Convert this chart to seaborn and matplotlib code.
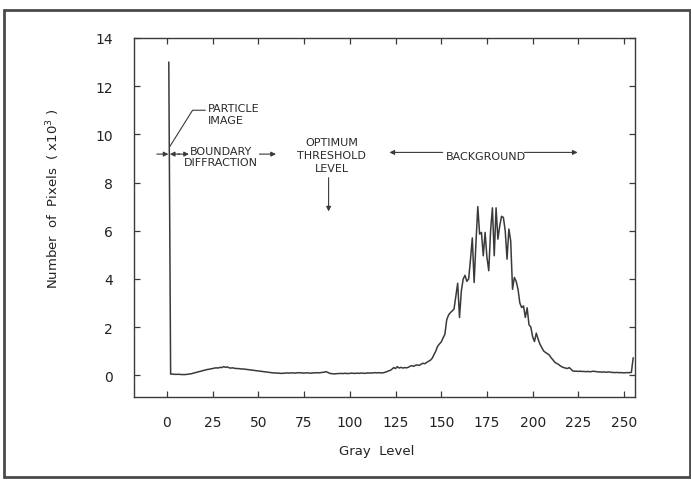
import numpy as np
import pandas as pd
import matplotlib
matplotlib.use("Agg")
import matplotlib.pyplot as plt
import seaborn as sns
from matplotlib.patches import Rectangle

# ---- data ----
gray_levels = list(range(1, 256))
pixel_counts = [
    13.0,                                                             # 1
    0.05, 0.05, 0.04, 0.04, 0.04, 0.04, 0.03, 0.03, 0.03, 0.04,       # 2-11
    0.05, 0.06, 0.08, 0.10, 0.12, 0.14, 0.16, 0.18, 0.20, 0.22,       # 12-21
    0.24, 0.25, 0.27, 0.28, 0.30, 0.31, 0.30, 0.33, 0.32, 0.36,       # 22-31
    0.33, 0.35, 0.31, 0.30, 0.31, 0.29, 0.28, 0.28, 0.27, 0.26,       # 32-41
    0.26, 0.25, 0.24, 0.23, 0.22, 0.21, 0.20, 0.19, 0.18, 0.17,       # 42-51
    0.16, 0.15, 0.14, 0.13, 0.12, 0.11, 0.10, 0.10, 0.09, 0.09,       # 52-61
    0.08, 0.08, 0.09, 0.09, 0.10, 0.09, 0.10, 0.10, 0.09, 0.10,       # 62-71
    0.11, 0.10, 0.10, 0.09, 0.10, 0.10, 0.09, 0.09, 0.10, 0.10,       # 72-81
    0.11, 0.10, 0.11, 0.12, 0.13, 0.15, 0.12, 0.08, 0.07, 0.06,       # 82-91
    0.06, 0.07, 0.07, 0.08, 0.07, 0.08, 0.08, 0.07, 0.08, 0.09,       # 92-101
    0.08, 0.08, 0.09, 0.08, 0.09, 0.09, 0.08, 0.09, 0.10, 0.09,       # 102-111
    0.10, 0.10, 0.11, 0.10, 0.11, 0.10, 0.10, 0.12, 0.14, 0.18,       # 112-121
    0.20, 0.25, 0.32, 0.28, 0.36, 0.30, 0.33, 0.30, 0.32, 0.31,       # 122-131
    0.33, 0.38, 0.40, 0.37, 0.42, 0.43, 0.41, 0.46, 0.50, 0.48,       # 132-141
    0.53, 0.58, 0.62, 0.70, 0.85, 1.00, 1.20, 1.30, 1.38, 1.55,       # 142-151
    1.70, 2.30, 2.50, 2.60, 2.67, 2.75, 3.30, 3.82, 2.40, 3.50,       # 152-161
    3.99, 4.15, 3.90, 4.00, 4.80, 5.70, 3.85, 5.50, 7.00, 5.86,       # 162-171
    5.93, 4.96, 5.93, 4.90, 4.34, 6.00, 6.95, 4.96, 6.95, 5.65,       # 172-181
    6.20, 6.60, 6.55, 6.00, 4.82, 6.07, 5.58, 3.57, 4.06, 3.90,       # 182-191
    3.57, 3.00, 2.81, 2.88, 2.40, 2.80, 2.10, 2.00, 1.60, 1.40,       # 192-201
    1.75, 1.50, 1.29, 1.15, 1.01, 0.95, 0.90, 0.85, 0.74, 0.65,       # 202-211
    0.55, 0.50, 0.46, 0.40, 0.35, 0.32, 0.30, 0.28, 0.32, 0.25,       # 212-221
    0.18, 0.17, 0.17, 0.16, 0.17, 0.16, 0.16, 0.15, 0.16, 0.15,       # 222-231
    0.15, 0.17, 0.16, 0.15, 0.14, 0.14, 0.13, 0.14, 0.13, 0.13,       # 232-241
    0.14, 0.12, 0.12, 0.11, 0.12, 0.11, 0.11, 0.11, 0.10, 0.11,       # 242-251
    0.11, 0.11, 0.12, 0.73,                                           # 252-255
]
x_ticks = [0, 25, 50, 75, 100, 125, 150, 175, 200, 225, 250]
y_ticks = [0, 2, 4, 6, 8, 10, 12, 14]

df = pd.DataFrame({"gray": gray_levels, "count": pixel_counts})

sns.set_style("ticks")
plt.rcParams["font.family"] = ["DejaVu Sans"]
ink = "#3a3a3a"

fig = plt.figure(figsize=(6.91, 4.81), dpi=100)
ax = fig.add_axes([0.194, 0.1726, 0.725, 0.7464])

sns.lineplot(data=df, x="gray", y="count", ax=ax, color=ink, lw=1.1,
             estimator=None, sort=False)

ax.set_xlim(-18, 256)
ax.set_ylim(-0.9, 14)
ax.set_xticks(x_ticks)
ax.set_yticks(y_ticks)
ax.tick_params(direction="in", length=4, width=0.9, colors=ink,
               top=True, right=True, labelsize=10, labelcolor="#222")
ax.tick_params(axis="x", pad=13)
ax.tick_params(axis="y", pad=15)
for s in ax.spines.values():
    s.set_color(ink)
    s.set_linewidth(1.0)

ax.set_xlabel("Gray  Level", fontsize=9.5, color="#222")
ax.set_ylabel("Number  of  Pixels  ( x10$^3$ )", fontsize=9.5, color="#222")
ax.xaxis.set_label_coords(0.485, -0.131)
ax.yaxis.set_label_coords(-0.144, 0.554)

fs = 8
tc = "#2a2a2a"
arr = dict(arrowstyle="-|>", lw=0.8, color=ink, mutation_scale=7,
           shrinkA=0, shrinkB=0)

# particle image leader
ax.plot([1.6, 14, 21], [9.5, 11.0, 11.0], color=ink, lw=0.8)
ax.text(22.4, 11.1, "PARTICLE", fontsize=fs, color=tc, va="center", ha="left")
ax.text(22.4, 10.6, "IMAGE", fontsize=fs, color=tc, va="center", ha="left")

# boundary diffraction arrows
ax.annotate("", xy=(0.8, 9.18), xytext=(-5.5, 9.18), arrowprops=arr)
ax.annotate("", xy=(1.6, 9.18), xytext=(7, 9.18), arrowprops=arr)
ax.annotate("", xy=(12, 9.18), xytext=(6, 9.18), arrowprops=arr)
ax.text(29.5, 9.3, "BOUNDARY", fontsize=fs, color=tc, va="center", ha="center")
ax.text(29.5, 8.85, "DIFFRACTION", fontsize=fs, color=tc, va="center", ha="center")
ax.annotate("", xy=(59.6, 9.18), xytext=(50.6, 9.18), arrowprops=arr)

# optimum threshold
ax.text(90, 9.67, "OPTIMUM", fontsize=fs, color=tc, va="center", ha="center")
ax.text(90, 9.13, "THRESHOLD", fontsize=fs, color=tc, va="center", ha="center")
ax.text(90, 8.6, "LEVEL", fontsize=fs, color=tc, va="center", ha="center")
ax.annotate("", xy=(88.4, 6.8), xytext=(88.4, 8.2), arrowprops=arr)

# background
ax.text(174.3, 9.11, "BACKGROUND", fontsize=fs, color=tc, va="center", ha="center")
ax.annotate("", xy=(121.7, 9.25), xytext=(150.8, 9.25), arrowprops=arr)
ax.annotate("", xy=(224.6, 9.25), xytext=(195.5, 9.25), arrowprops=arr)

# figure border
fig.patches.append(Rectangle((0.006, 0.006), 0.992, 0.972, transform=fig.transFigure,
                             fill=False, edgecolor="#4a4a4a", lw=2.0))

fig.savefig("out.png", dpi=100)
